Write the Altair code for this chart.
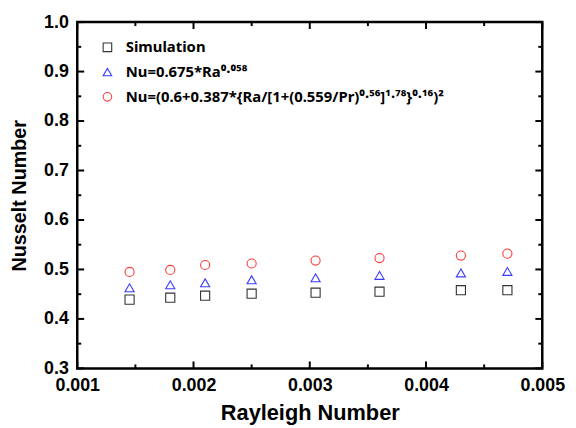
import altair as alt
import pandas as pd

# Data
rayleigh = [0.00145, 0.0018, 0.0021, 0.0025, 0.00305, 0.0036, 0.0043, 0.0047]
simulation = [0.439, 0.443, 0.447, 0.451, 0.453, 0.455, 0.458, 0.458]
nu_corr1 = [0.463, 0.469, 0.473, 0.479, 0.483, 0.488, 0.493, 0.496]
nu_corr2 = [0.495, 0.499, 0.509, 0.512, 0.518, 0.523, 0.528, 0.532]

series_names = [
    "Simulation",
    "Nu=0.675*Ra\u2070\u00b7\u2070\u2075\u2078",
    "Nu=(0.6+0.387*{Ra/[1+(0.559/Pr)\u2070\u00b7\u2075\u2076]\u00b9\u00b7\u2077\u2078}\u2070\u00b7\u00b9\u2076)\u00b2",
]
series_colors = ["#333333", "#3b3bff", "#ff3b3b"]
series_shapes = ["square", "triangle-up", "circle"]

x_major = [0.001, 0.002, 0.003, 0.004, 0.005]
x_minor = [0.0015, 0.0025, 0.0035, 0.0045]
y_major = [0.3, 0.4, 0.5, 0.6, 0.7, 0.8, 0.9, 1.0]
y_minor = [0.35, 0.45, 0.55, 0.65, 0.75, 0.85, 0.95]

W, H = 470, 350
FONT = "Liberation Sans"

rows = []
for name, vals in zip(series_names, [simulation, nu_corr1, nu_corr2]):
    for r, v in zip(rayleigh, vals):
        rows.append({"Ra": r, "Nu": v, "series": name})
df = pd.DataFrame(rows)

xscale = alt.Scale(domain=[0.001, 0.005], nice=False, zero=False)
yscale = alt.Scale(domain=[0.3, 1.0], nice=False, zero=False)

xaxis = alt.Axis(title="Rayleigh Number", values=x_major, format=".3f",
                 ticks=False, domain=False, grid=False, labelFlush=False,
                 labelOverlap=False, labelPadding=8, labelFontSize=18,
                 labelFont=FONT, labelFontWeight="bold", labelColor="black",
                 titleFont=FONT, titleFontSize=22, titleFontWeight="bold",
                 titleColor="black", titlePadding=9)
yaxis = alt.Axis(title="Nusselt Number", values=y_major, format=".1f",
                 ticks=False, domain=False, grid=False, labelFlush=False,
                 labelOverlap=False, labelPadding=9, labelFontSize=18,
                 labelFont=FONT, labelFontWeight="bold", labelColor="black",
                 titleFont=FONT, titleFontSize=20, titleFontWeight="bold",
                 titleColor="black", titlePadding=14)

legend = alt.Legend(title=None, orient="none", legendX=23, legendY=18,
                    padding=0, labelFont="Noto Sans", labelFontSize=15,
                    labelFontWeight="bold", labelColor="black",
                    labelLimit=1000, labelOffset=11, rowPadding=9,
                    symbolSize=75, symbolStrokeWidth=1.1)

points = alt.Chart(df).mark_point(filled=False, size=85, strokeWidth=1.1, opacity=1).encode(
    x=alt.X("Ra:Q", scale=xscale, axis=xaxis),
    y=alt.Y("Nu:Q", scale=yscale, axis=yaxis),
    color=alt.Color("series:N", scale=alt.Scale(domain=series_names, range=series_colors),
                    legend=legend),
    shape=alt.Shape("series:N", scale=alt.Scale(domain=series_names, range=series_shapes),
                    legend=legend),
)


def xticks(vals, length):
    d = pd.DataFrame({"Ra": vals})
    bottom = alt.Chart(d).mark_rule(color="black", strokeWidth=2).encode(
        x=alt.X("Ra:Q", scale=xscale, axis=xaxis), y=alt.value(H), y2=alt.value(H - length))
    top = alt.Chart(d).mark_rule(color="black", strokeWidth=2).encode(
        x=alt.X("Ra:Q", scale=xscale, axis=xaxis), y=alt.value(0), y2=alt.value(length))
    return [bottom, top]


def yticks(vals, length):
    d = pd.DataFrame({"Nu": vals})
    left = alt.Chart(d).mark_rule(color="black", strokeWidth=2).encode(
        y=alt.Y("Nu:Q", scale=yscale, axis=yaxis), x=alt.value(0), x2=alt.value(length))
    right = alt.Chart(d).mark_rule(color="black", strokeWidth=2).encode(
        y=alt.Y("Nu:Q", scale=yscale, axis=yaxis), x=alt.value(W), x2=alt.value(W - length))
    return [left, right]


layers = [points] + xticks(x_major, 7) + xticks(x_minor, 4) + yticks(y_major, 7) + yticks(y_minor, 4)

chart = alt.layer(*layers).properties(
    width=W, height=H,
    background="white",
    autosize=alt.AutoSizeParams(type="none"),
    padding={"left": 70, "top": 12, "right": 26, "bottom": 58},
).configure_view(stroke="black", strokeWidth=2.5)

chart.save("out.html", embed_options={"renderer": "svg", "actions": False})
